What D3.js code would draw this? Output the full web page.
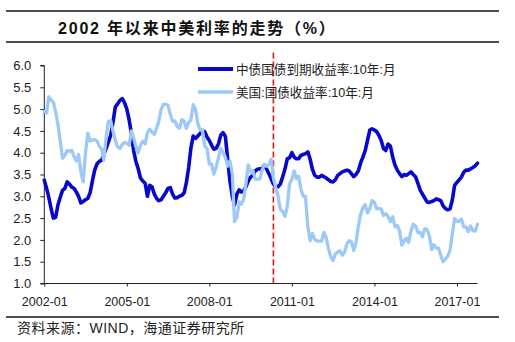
<!DOCTYPE html>
<html>
<head>
<meta charset="utf-8">
<script src="https://cdn.jsdelivr.net/npm/d3@7"></script>
<style>
  html, body { margin: 0; padding: 0; background: #fff; }
  svg { display: block; }
  text { font-family: "Liberation Sans", Arial, "Noto Sans CJK SC", sans-serif; }
</style>
</head>
<body>
<svg id="chart" width="515" height="342"></svg>
<script>
// ---- Data ----
const titleText = "2002 年以来中美利率的走势（%）";
const sourceText = "资料来源：WIND，海通证券研究所";
const seriesNames = ["中债国债到期收益率:10年:月", "美国:国债收益率:10年:月"];
const startMonth = "2002-01";
const yTicks = [1.0, 1.5, 2.0, 2.5, 3.0, 3.5, 4.0, 4.5, 5.0, 5.5, 6.0];
const xTickLabels = ["2002-01", "2005-01", "2008-01", "2011-01", "2014-01", "2017-01"];
const markerMonth = "2010-05";

// China 10Y government bond yield, monthly from 2002-01 to 2017-10
const chinaYield = [
  3.37, 3.18, 2.98, 2.72, 2.50, 2.52, 2.80, 2.98, 3.14, 3.18, 3.33, 3.28,
  3.21, 3.18, 3.10, 3.00, 2.85, 2.88, 2.92, 2.95, 3.08, 3.35, 3.60, 3.74,
  3.80, 3.83, 3.95, 4.10, 4.25, 4.40, 4.70, 5.05, 5.12, 5.20, 5.24, 5.15,
  5.00, 4.75, 4.45, 4.05, 3.80, 3.63, 3.42, 3.35, 3.30, 3.00, 3.25, 3.22,
  3.05, 2.95, 2.90, 2.92, 3.00, 3.08, 3.18, 3.20, 3.05, 2.96, 2.97, 3.00,
  3.02, 3.08, 3.30, 3.65, 4.10, 4.38, 4.33, 4.38, 4.44, 4.51, 4.48, 4.36,
  4.28, 4.17, 4.08, 4.10, 4.20, 4.40, 4.46, 4.38, 3.85, 3.35, 3.00, 2.80,
  3.05, 3.15, 3.10, 3.12, 3.22, 3.35, 3.44, 3.48, 3.58, 3.62, 3.63, 3.62,
  3.72, 3.62, 3.52, 3.40, 3.28, 3.22, 3.22, 3.28, 3.45, 3.62, 3.86, 3.88,
  4.00, 3.90, 3.86, 3.86, 3.94, 3.96, 3.98, 4.02, 3.85, 3.62, 3.48, 3.44,
  3.44, 3.48, 3.45, 3.42, 3.38, 3.34, 3.33, 3.38, 3.48, 3.52, 3.56, 3.58,
  3.60, 3.58, 3.52, 3.45, 3.50, 3.58, 3.76, 3.90, 4.05, 4.28, 4.52, 4.55,
  4.52, 4.48, 4.40, 4.28, 4.10, 4.05, 4.20, 4.15, 3.90, 3.72, 3.60, 3.52,
  3.45, 3.50, 3.48, 3.52, 3.56, 3.50, 3.45, 3.30, 3.14, 3.05, 2.96, 2.87,
  2.86, 2.88, 2.90, 2.94, 2.92, 2.90, 2.78, 2.72, 2.69, 2.71, 2.92, 3.25,
  3.32, 3.38, 3.44, 3.55, 3.60, 3.60, 3.63, 3.66, 3.70, 3.76
];

// US 10Y Treasury yield, monthly from 2002-01 to 2017-10
const usYield = [
  4.95, 4.91, 5.28, 5.21, 5.16, 4.93, 4.65, 4.26, 3.87, 3.94, 4.05, 4.03,
  4.05, 3.90, 3.81, 3.96, 3.57, 3.33, 3.98, 4.45, 4.27, 4.29, 4.30, 4.27,
  4.15, 4.08, 3.83, 4.35, 4.72, 4.73, 4.50, 4.28, 4.13, 4.10, 4.19, 4.23,
  4.22, 4.17, 4.50, 4.34, 4.14, 4.00, 4.18, 4.26, 4.20, 4.46, 4.54, 4.47,
  4.42, 4.57, 4.72, 4.99, 5.11, 5.11, 5.09, 4.88, 4.72, 4.73, 4.60, 4.56,
  4.76, 4.72, 4.56, 4.69, 4.75, 5.10, 5.00, 4.67, 4.52, 4.53, 4.15, 4.10,
  3.74, 3.74, 3.51, 3.68, 3.88, 4.10, 4.01, 3.89, 3.69, 3.81, 3.53, 2.42,
  2.52, 2.87, 2.82, 2.93, 3.29, 3.72, 3.56, 3.59, 3.40, 3.39, 3.40, 3.59,
  3.73, 3.69, 3.73, 3.85, 3.42, 3.20, 3.01, 2.70, 2.65, 2.54, 2.76, 3.29,
  3.39, 3.58, 3.41, 3.46, 3.17, 3.00, 3.00, 2.30, 1.98, 2.15, 2.01, 1.98,
  1.97, 1.97, 2.17, 2.05, 1.80, 1.62, 1.53, 1.68, 1.72, 1.75, 1.65, 1.72,
  1.91, 1.98, 1.96, 1.76, 1.93, 2.30, 2.58, 2.74, 2.81, 2.62, 2.72, 2.90,
  2.86, 2.71, 2.72, 2.71, 2.56, 2.60, 2.54, 2.42, 2.53, 2.30, 2.33, 2.21,
  1.88, 1.98, 2.04, 1.94, 2.20, 2.36, 2.32, 2.17, 2.17, 2.07, 2.26, 2.24,
  2.09, 1.78, 1.89, 1.81, 1.81, 1.64, 1.50, 1.56, 1.63, 1.76, 2.14, 2.49,
  2.43, 2.42, 2.48, 2.30, 2.30, 2.19, 2.32, 2.21, 2.20, 2.36
];

// ---- Chart ----
const parseMonth = d3.timeParse("%Y-%m");
const fmtMonth = d3.timeFormat("%Y-%m");
const start = parseMonth(startMonth);
const months = chinaYield.map((_, i) => d3.timeMonth.offset(start, i));

const svg = d3.select("#chart");
svg.append("rect").attr("width", 515).attr("height", 342).attr("fill", "#fff");

const x = d3.scaleTime()
  .domain([months[0], months[months.length - 1]])
  .range([44.3, 477.5]);
const y = d3.scaleLinear().domain([1, 6]).range([283.5, 65.5]);

// title block
svg.append("line").attr("x1", 6).attr("x2", 499).attr("y1", 11).attr("y2", 11)
  .attr("stroke", "#111").attr("stroke-width", 1.6);
svg.append("line").attr("x1", 6).attr("x2", 499).attr("y1", 42).attr("y2", 42)
  .attr("stroke", "#111").attr("stroke-width", 1.6);
svg.append("text").attr("x", 58).attr("y", 33.5)
  .attr("font-size", 16).attr("font-weight", "bold").attr("letter-spacing", 1.8)
  .attr("fill", "#111").text(titleText);

// y axis
const yAxis = d3.axisLeft(y).tickValues(yTicks).tickFormat(d3.format(".1f"))
  .tickSize(4).tickPadding(0);
const gy = svg.append("g").attr("transform", "translate(44.3,0)").call(yAxis);
gy.select(".domain").attr("stroke", "#222").attr("d", `M-4,${y(6)}H0V${y(1)}H-4`);
gy.selectAll(".tick line").attr("stroke", "#222");
gy.selectAll(".tick text").attr("x", -13).attr("font-size", 13)
  .attr("fill", "#222").attr("font-family", "Liberation Sans, Arial, sans-serif");

// x axis
const xTickDates = xTickLabels.map(parseMonth);
const xAxis = d3.axisBottom(x).tickValues(xTickDates).tickFormat(fmtMonth)
  .tickSize(3).tickPadding(0);
const gx = svg.append("g").attr("transform", `translate(0,${y(1)})`).call(xAxis);
gx.select(".domain").attr("stroke", "#222").attr("d", `M${x.range()[0]},0H${x.range()[1]}`);
gx.selectAll(".tick line").attr("stroke", "#222");
gx.selectAll(".tick text").attr("y", 22.5).attr("dy", 0).attr("font-size", 12.5)
  .attr("fill", "#222").attr("font-family", "Liberation Sans, Arial, sans-serif");

// red dashed marker line
const mx = x(parseMonth(markerMonth));
svg.append("line").attr("x1", mx).attr("x2", mx).attr("y1", y(6.3)).attr("y2", y(1))
  .attr("stroke", "#dd2222").attr("stroke-width", 1.7).attr("stroke-dasharray", "6,3");

// series
const colors = ["#0808cc", "#9cc9f7"];
const seriesData = [chinaYield, usYield];
const line = d3.line().x((d, i) => x(months[i])).y(d => y(d)).curve(d3.curveLinear);

[0, 1].forEach(k => {
  svg.append("path").datum(seriesData[k])
    .attr("fill", "none").attr("stroke", colors[k])
    .attr("stroke-width", k === 0 ? 3.6 : 3.3)
    .attr("stroke-linejoin", "round").attr("stroke-linecap", "round")
    .attr("d", line);
});

// legend
const legendY = [69, 92];
seriesNames.forEach((name, k) => {
  svg.append("line").attr("x1", 198).attr("x2", 233)
    .attr("y1", legendY[k]).attr("y2", legendY[k])
    .attr("stroke", colors[k]).attr("stroke-width", k === 0 ? 3.8 : 3.5);
  svg.append("text").attr("x", 236).attr("y", legendY[k]).attr("dy", "0.36em")
    .attr("font-size", 12.6).attr("fill", "#222").text(name);
});

// source
svg.append("line").attr("x1", 6).attr("x2", 499).attr("y1", 317).attr("y2", 317)
  .attr("stroke", "#111").attr("stroke-width", 1.6);
svg.append("text").attr("x", 17).attr("y", 333).attr("letter-spacing", 0.5)
  .attr("font-size", 14).attr("fill", "#222").text(sourceText);
</script>
</body>
</html>
